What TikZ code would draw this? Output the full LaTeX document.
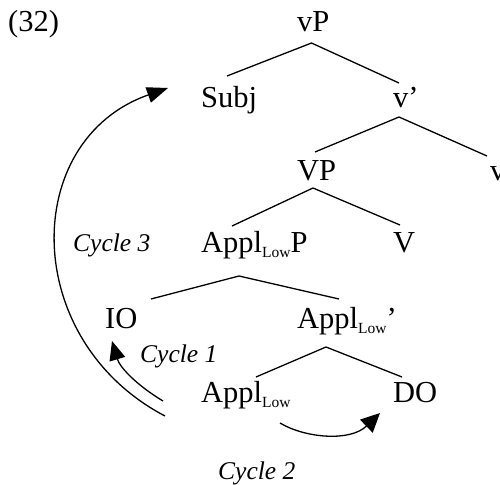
\documentclass[tikz,border=0pt]{standalone}
\usepackage{fontspec}
\setmainfont{Liberation Serif}
\usetikzlibrary{arrows.meta}
\newcommand{\lowsub}{\raisebox{-5pt}{\fontsize{15.5}{16}\selectfont Low}}
\begin{document}
\begin{tikzpicture}[x=1pt,y=-1pt,
  lbl/.style={anchor=base west, inner sep=0pt, font=\fontsize{30.5}{36}\selectfont},
  cyc/.style={anchor=base west, inner sep=0pt, font=\fontsize{25.5}{30}\selectfont\itshape},
  branch/.style={line width=1.3pt},
  cycarrow/.style={line width=1.3pt}]
\useasboundingbox (0,0) rectangle (500,484);
% labels
\node[lbl] (ex)    at (8,32)    {(32)};
\node[lbl] (vP)    at (297,32)  {vP};
\node[lbl] (Subj)  at (201,107) {Subj};
\node[lbl] (vbar)  at (393,107) {v’};
\node[lbl] (VP)    at (297,180) {VP};
\node[lbl] (v)     at (490,180) {v};
\node[lbl] (ApplP) at (201,252) {Appl\lowsub P};
\node[lbl] (V)     at (393,252) {V};
\node[lbl] (IO)    at (105,328) {IO};
\node[lbl] (Applbar) at (297,328) {Appl\lowsub’};
\node[lbl] (Appl)  at (201,402) {Appl\lowsub};
\node[lbl] (DO)    at (393,402) {DO};
\node[cyc] (c3) at (73,251)  {Cycle 3};
\node[cyc] (c1) at (140,362) {Cycle 1};
\node[cyc] (c2) at (218,479) {Cycle 2};
% branch points
\coordinate (vPa) at (311.5,43);  \coordinate (vPl) at (227,76);   \coordinate (vPr) at (399,83);
\coordinate (vba) at (399,117);   \coordinate (vbl) at (315,152);  \coordinate (vbr) at (487,156);
\coordinate (VPa) at (313,188);   \coordinate (VPl) at (232,226);  \coordinate (VPr) at (400,225);
\coordinate (APa) at (239,276);   \coordinate (APl) at (151,299);  \coordinate (APr) at (339,299);
\coordinate (Aba) at (326,347);   \coordinate (Abl) at (256,377);  \coordinate (Abr) at (402,377);
\draw[branch] (vPl) -- (vPa) -- (vPr);
\draw[branch] (vbl) -- (vba) -- (vbr);
\draw[branch] (VPl) -- (VPa) -- (VPr);
\draw[branch] (APl) -- (APa) -- (APr);
\draw[branch] (Abl) -- (Aba) -- (Abr);
% cycle arrows
\coordinate (c3s) at (165,416); \coordinate (c3e) at (168,88);
\coordinate (c1s) at (163,401); \coordinate (c1e) at (112,341);
\coordinate (c2s) at (280,423); \coordinate (c2e) at (380,413);
\draw[cycarrow,-{Triangle[length=21pt,width=16pt]}] (c3s) .. controls (20,340) and (20,140) .. (c3e);
\draw[cycarrow,-{Triangle[length=19pt,width=16pt]}] (c1s) .. controls (138,386) and (120,368) .. (c1e);
\draw[cycarrow,-{Triangle[length=19pt,width=18pt]}] (c2s) .. controls (305,438) and (350,442) .. (c2e);
\end{tikzpicture}
\end{document}
